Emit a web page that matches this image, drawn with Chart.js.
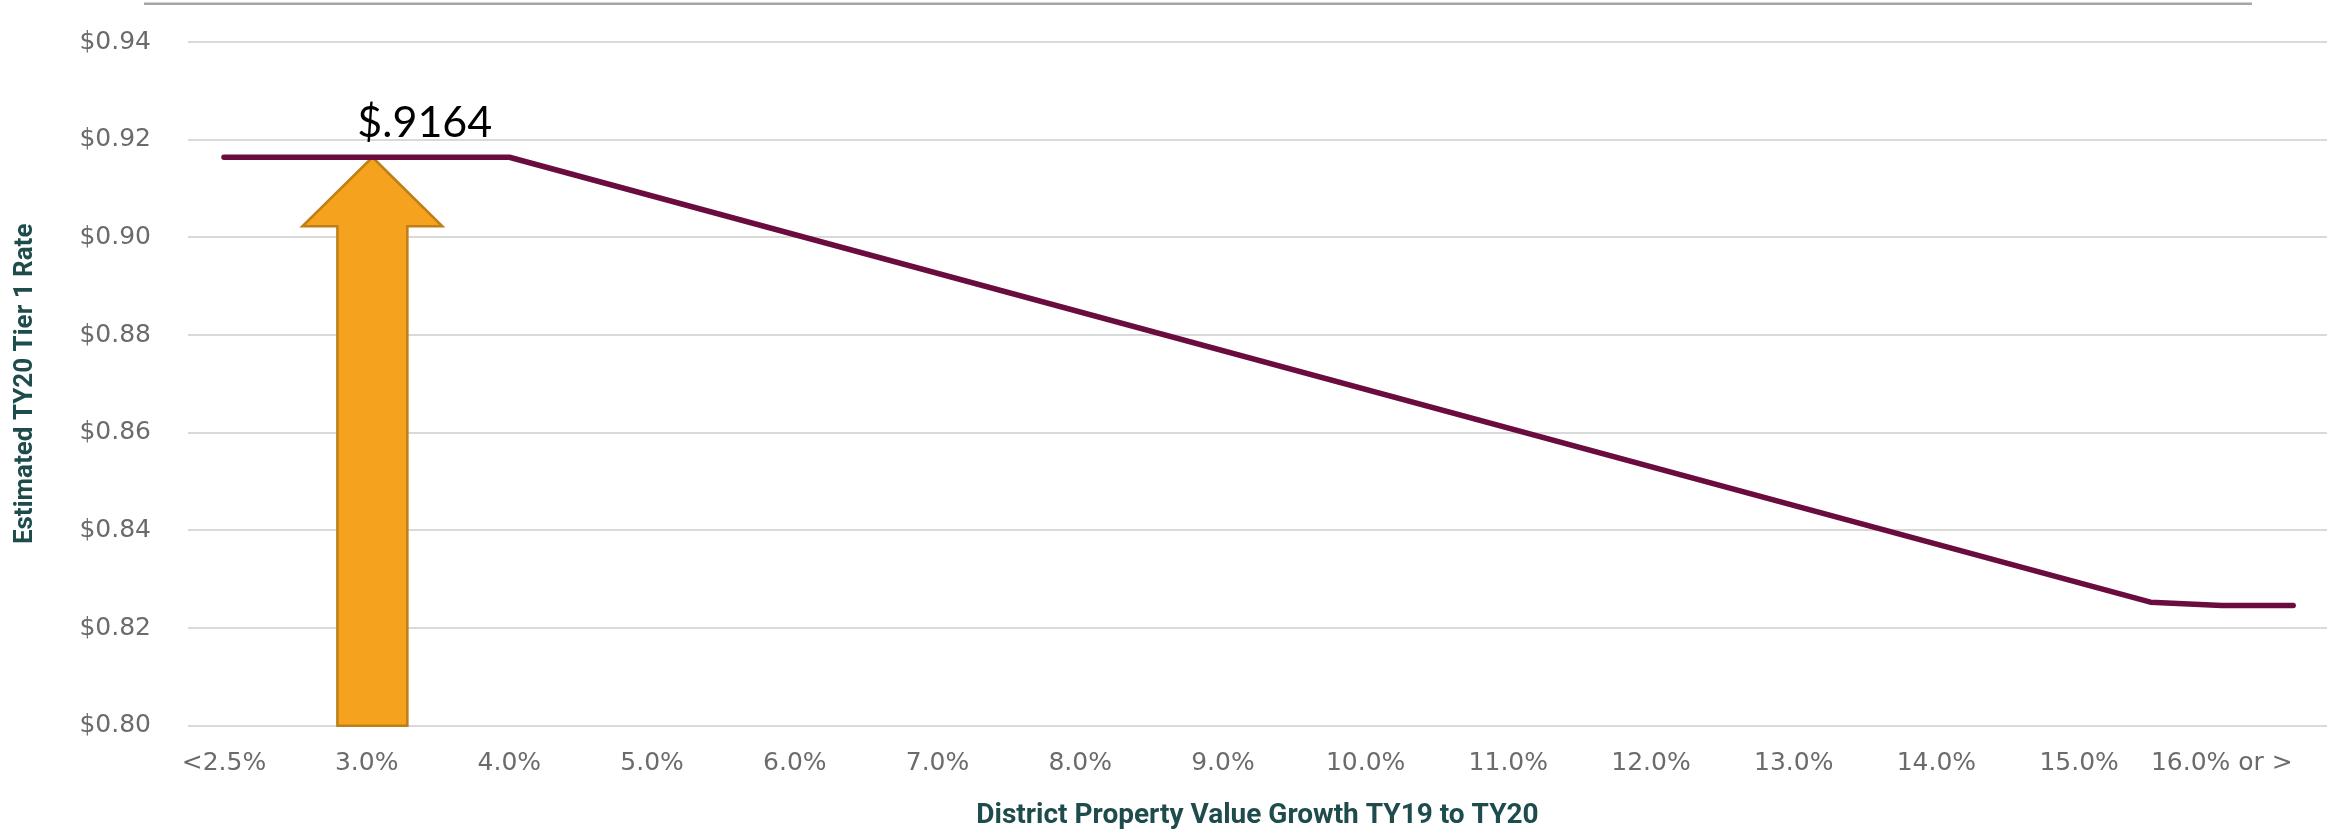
<!DOCTYPE html>
<html lang="en">
<head>
  <meta charset="UTF-8" />
  <title>Estimated TY20 Tier 1 Rate</title>
  <script src="https://cdn.jsdelivr.net/npm/chart.js"></script>
  <style>
    body {
      margin: 0;
      padding: 0;
      background-color: #ffffff;
      overflow: hidden;
    }

    .wrap {
      position: relative;
      width: 2331px;
      height: 836px;
    }
  </style>
</head>
<body>
  <div class="wrap">
    <canvas id="rateChart"></canvas>
  </div>

  <script>
    // category labels along the x axis (equally spaced, position 0..14)
    const growthLabels = ['<2.5%', '3.0%', '4.0%', '5.0%', '6.0%', '7.0%', '8.0%', '9.0%',
      '10.0%', '11.0%', '12.0%', '13.0%', '14.0%', '15.0%', '16.0% or >'];

    // vertices of the rate line (x in category positions)
    const linePositions = [0, 2, 13.5, 14, 14.5];
    const lineRates = [0.9164, 0.9164, 0.8253, 0.8246, 0.8246];

    // y axis ticks
    const rateTicks = [0.80, 0.82, 0.84, 0.86, 0.88, 0.90, 0.92, 0.94];

    // callout
    const calloutLabel = '$.9164';
    const calloutPosition = 1.04;
    const calloutRate = 0.9164;

    const calloutPlugin = {
      id: 'callout',
      beforeDatasetsDraw(chart) {
        const { ctx, scales: { x, y } } = chart;
        const tipX = x.getPixelForValue(calloutPosition);
        const tipY = y.getPixelForValue(calloutRate);
        const baseY = y.getPixelForValue(rateTicks[0]);
        const headW = 70, headH = 69, shaftW = 35;

        ctx.save();
        ctx.beginPath();
        ctx.moveTo(tipX, tipY);
        ctx.lineTo(tipX + headW, tipY + headH);
        ctx.lineTo(tipX + shaftW, tipY + headH);
        ctx.lineTo(tipX + shaftW, baseY);
        ctx.lineTo(tipX - shaftW, baseY);
        ctx.lineTo(tipX - shaftW, tipY + headH);
        ctx.lineTo(tipX - headW, tipY + headH);
        ctx.closePath();
        ctx.fillStyle = '#F5A31F';
        ctx.fill();
        ctx.lineWidth = 2.5;
        ctx.strokeStyle = '#BF7E17';
        ctx.stroke();
        ctx.restore();
      },
      afterDraw(chart) {
        const { ctx, scales: { x, y } } = chart;
        const tipX = x.getPixelForValue(calloutPosition);
        const tipY = y.getPixelForValue(calloutRate);

        ctx.save();
        ctx.font = '43px Lato';
        ctx.fillStyle = '#000000';
        ctx.textAlign = 'left';
        ctx.textBaseline = 'alphabetic';
        ctx.fillText(calloutLabel, tipX - 15, tipY - 20);

        // thin rule along the top of the slide
        ctx.fillStyle = '#A6A6A6';
        ctx.fillRect(144, 2.5, 2108, 2.5);
        ctx.restore();
      }
    };

    const rateChart = new Chart(document.getElementById('rateChart').getContext('2d'), {
      type: 'line',
      data: {
        datasets: [{
          label: 'Estimated TY20 Tier 1 Rate',
          data: linePositions.map((p, i) => ({ x: p, y: lineRates[i] })),
          borderColor: '#6A0C3D',
          borderWidth: 5.5,
          borderCapStyle: 'round',
          borderJoinStyle: 'round',
          pointRadius: 0,
          tension: 0,
          fill: false
        }]
      },
      options: {
        responsive: true,
        maintainAspectRatio: false,
        animation: false,
        layout: { padding: { top: 42, right: 4, left: 0, bottom: 0 } },
        plugins: {
          legend: { display: false },
          tooltip: { enabled: false }
        },
        scales: {
          x: {
            type: 'linear',
            min: -0.252,
            max: 14.737,
            afterBuildTicks: scale => { scale.ticks = growthLabels.map((_, i) => ({ value: i })); },
            afterFit: scale => { scale.height = 110.3; },
            grid: { display: false },
            border: { display: false },
            ticks: {
              autoSkip: false,
              maxRotation: 0,
              padding: 15,
              color: '#6B6B6B',
              font: { family: 'DejaVu Sans', size: 25 },
              callback: value => growthLabels[value]
            },
            title: {
              display: true,
              text: 'District Property Value Growth TY19 to TY20',
              color: '#1E4B4C',
              font: { family: 'Roboto', size: 28, weight: 'bold' },
              padding: { top: 0, bottom: 3 }
            }
          },
          y: {
            min: 0.80,
            max: 0.94,
            afterBuildTicks: scale => { scale.ticks = rateTicks.map(v => ({ value: v })); },
            afterFit: scale => { scale.width = 188; },
            // invisible tick marks give the gap between labels and grid
            grid: { color: '#D9D9D9', lineWidth: 2, drawTicks: true, tickLength: 37, tickColor: 'rgba(0,0,0,0)' },
            border: { display: false },
            ticks: {
              padding: 0,
              color: '#6B6B6B',
              font: { family: 'DejaVu Sans', size: 25 },
              callback: value => '$' + value.toFixed(2)
            },
            title: {
              display: true,
              text: 'Estimated TY20 Tier 1 Rate',
              color: '#1E4B4C',
              font: { family: 'Roboto', size: 26, weight: 'bold' },
              padding: { top: 10, bottom: 0 }
            }
          }
        }
      },
      plugins: [calloutPlugin]
    });
  </script>
</body>
</html>
